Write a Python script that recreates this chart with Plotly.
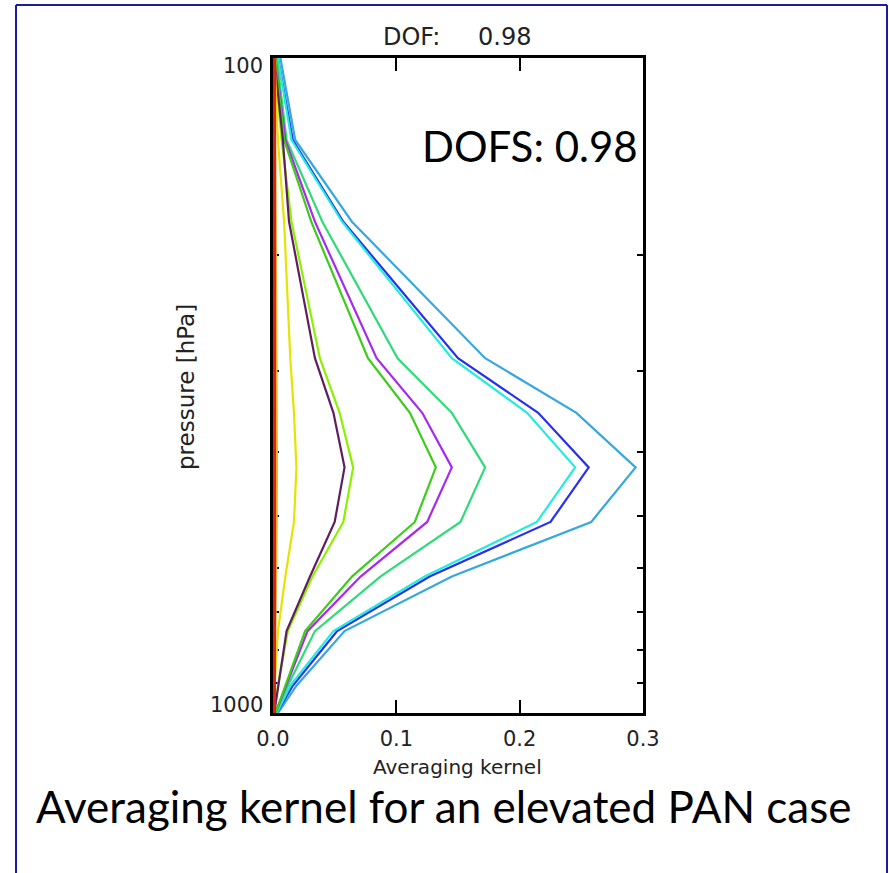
import plotly.graph_objects as go

# Retrieval pressure levels (hPa), top of profile first
pressure_hpa = [100.0, 133.4, 177.8, 287.3, 348.1, 421.7, 510.9, 619.0, 749.9, 908.5, 1000.0]

# Averaging-kernel rows, one list per plotted level
ak_sky_blue = [0.006, 0.018, 0.064, 0.172, 0.246, 0.294, 0.258, 0.145, 0.058, 0.019, 0.004]
ak_blue = [0.004, 0.016, 0.057, 0.150, 0.215, 0.256, 0.225, 0.127, 0.052, 0.016, 0.003]
ak_cyan = [0.004, 0.015, 0.056, 0.145, 0.206, 0.245, 0.214, 0.123, 0.049, 0.014, 0.003]
ak_spring = [0.003, 0.011, 0.040, 0.101, 0.145, 0.172, 0.152, 0.087, 0.034, 0.012, 0.002]
ak_violet = [0.002, 0.010, 0.034, 0.084, 0.121, 0.145, 0.125, 0.071, 0.028, 0.011, 0.002]
ak_green = [0.002, 0.009, 0.031, 0.077, 0.111, 0.132, 0.115, 0.064, 0.026, 0.010, 0.002]
ak_lime = [0.001, 0.007, 0.015, 0.038, 0.054, 0.065, 0.057, 0.032, 0.012, 0.004, 0.001]
ak_plum = [0.001, 0.008, 0.013, 0.034, 0.049, 0.058, 0.050, 0.030, 0.011, 0.004, 0.001]
ak_yellow = [0.001, 0.004, 0.009, 0.014, 0.017, 0.019, 0.017, 0.010, 0.004, 0.001, 0.0]
ak_black = [0.0010, 0.0014, 0.0018, 0.0022, 0.0024, 0.0026, 0.0024, 0.0020, 0.0014, 0.0008, 0.0004]
ak_orange = [0.0016, 0.0020, 0.0024, 0.0028, 0.0030, 0.0032, 0.0030, 0.0026, 0.0020, 0.0014, 0.0010]
ak_red = [0.0008, 0.0008, 0.0009, 0.0010, 0.0010, 0.0011, 0.0010, 0.0010, 0.0009, 0.0008, 0.0008]

x_tick_vals = [0.0, 0.1, 0.2, 0.3]
x_tick_text = ["0.0", "0.1", "0.2", "0.3"]
y_tick_vals = [100, 1000]
y_tick_text = ["100", "1000"]
y_minor_vals = [200, 300, 400, 500, 600, 700, 800, 900]

dof_value = 0.98

series = [
    (ak_sky_blue, "#35a8de", 2.2),
    (ak_blue, "#2630ee", 2.2),
    (ak_cyan, "#22ecde", 2.2),
    (ak_spring, "#2edb78", 2.2),
    (ak_violet, "#a829ee", 2.2),
    (ak_green, "#3ccc1c", 2.2),
    (ak_lime, "#8cf000", 2.2),
    (ak_plum, "#5e1f5e", 2.2),
    (ak_yellow, "#e4e400", 2.2),
    (ak_black, "#000000", 1.5),
    (ak_orange, "#ffac30", 2.2),
    (ak_red, "#e0220c", 4),
]

W, H = 889, 873


def fx(x):
    return x / W


def fy(y):
    return 1 - y / H


fig = go.Figure()
for values, color, width in series:
    fig.add_trace(go.Scatter(
        x=values, y=pressure_hpa, mode="lines",
        line=dict(color=color, width=width),
        showlegend=False, hoverinfo="skip",
    ))

axis_font = dict(family="DejaVu Sans", size=21, color="#222222")

fig.update_layout(
    width=W, height=H,
    autosize=False,
    margin=dict(l=0, r=0, t=0, b=0, pad=0, autoexpand=False),
    paper_bgcolor="white", plot_bgcolor="white",
    showlegend=False,
    xaxis=dict(
        domain=[fx(273), fx(643)], range=[0, 0.3],
        tickvals=x_tick_vals, ticktext=x_tick_text,
        ticks="inside", ticklen=13, tickwidth=2, tickcolor="black",
        showline=True, linecolor="black", linewidth=2.5, mirror="allticks",
        showgrid=False, zeroline=False, tickfont=axis_font,
        ticklabelstandoff=5, automargin=False,
    ),
    yaxis=dict(
        domain=[fy(713), fy(58)], type="log", range=[3, 2],
        tickvals=y_tick_vals, ticks="inside", ticklen=13, tickwidth=2,
        tickcolor="black", showticklabels=False,
        minor=dict(tickvals=y_minor_vals, ticks="inside", ticklen=6,
                   tickwidth=2, tickcolor="black", showgrid=False),
        showline=True, linecolor="black", linewidth=2.5, mirror="allticks",
        showgrid=False, zeroline=False, layer="below traces",
        automargin=False,
    ),
)


def label(x, y, text, size, family="DejaVu Sans", color="#222222", **kw):
    return dict(x=fx(x), y=fy(y), xref="paper", yref="paper",
                xanchor="center", yanchor="middle", text=text,
                showarrow=False, font=dict(family=family, size=size, color=color),
                **kw)


annotations = []
# y tick labels, nudged inside the frame
for val, txt, shift in zip(y_tick_vals, y_tick_text, [-8, 8]):
    annotations.append(dict(
        x=fx(265), xref="paper", xanchor="right",
        y=len(str(val)) - 1, yref="y", yanchor="middle", yshift=shift,
        text=txt, showarrow=False, font=axis_font,
    ))
# Plot title
annotations.append(label(411, 37, "DOF:", 24))
annotations.append(label(504, 37, f"{dof_value:.2f}", 24))
# Axis titles
annotations.append(label(457, 767, "Averaging kernel", 20))
annotations.append(label(186, 387, "pressure [hPa]", 23, textangle=-90))
# Slide text
annotations.append(label(530, 146, f"DOFS: {dof_value:.2f}", 42,
                         family="Lato", color="black"))
annotations.append(label(443, 806, "Averaging kernel for an elevated PAN case", 44,
                         family="Lato", color="black"))
fig.update_layout(annotations=annotations)

# Slide frame (bottom edge runs past the page)
frame = dict(type="line", xref="paper", yref="paper",
             line=dict(color="#1c1ca0", width=2))
fig.update_layout(shapes=[
    dict(frame, x0=fx(16), x1=fx(16), y0=fy(5), y1=0),
    dict(frame, x0=fx(16), x1=fx(887), y0=fy(5), y1=fy(5)),
    dict(frame, x0=fx(887), x1=fx(887), y0=fy(5), y1=0),
])

fig.write_html("out.html")
